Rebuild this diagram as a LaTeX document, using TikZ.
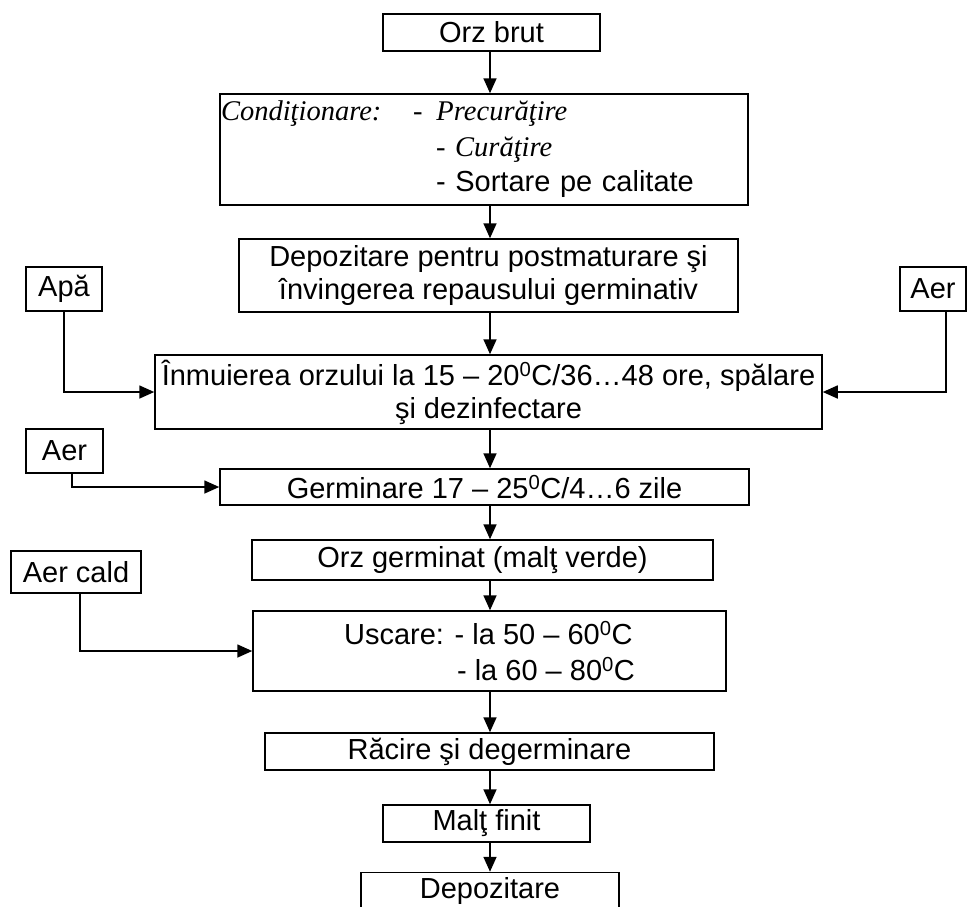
\documentclass[tikz,border=0pt]{standalone}
\usepackage{fontspec}
\setmainfont{Liberation Sans}
\newfontfamily\timesfont{Liberation Serif}
\usetikzlibrary{arrows.meta, positioning}
\newcommand{\condit}[1]{{\timesfont\itshape\fontsize{28.5}{35.5}\selectfont #1}}
\newcommand{\grd}{\textsuperscript{0}}
\tikzstyle{process} = [
	rectangle,
	line width=1.5pt,
	text centered,
	inner sep=1pt,
	draw=black,
	font=\fontsize{29}{33}\selectfont
]
\tikzstyle{feed} = [
	rectangle,
	line width=1.5pt,
	minimum height=44pt,
	inner sep=1pt,
	draw=black,
	font=\fontsize{29}{33}\selectfont
]
\tikzstyle{arrow} = [line width=1.7pt,-{Triangle[length=15pt,width=13pt]}]

\begin{document}
\begin{tikzpicture}[x=1pt, y=-1pt]
	\useasboundingbox (0,0) rectangle (968,906);
	\coordinate (axis) at (490,0);
	% main line
	\node (brut) [process, minimum width=217pt, minimum height=37pt] at (491.5,32.5) {Orz brut};
	\node (cond) [process, text width=526pt, align=left, minimum height=111pt, font=\fontsize{29}{35.5}\selectfont] at (484,149.5)
		{\makebox[192pt][l]{\condit{Condiţionare:}}\condit{-\hspace{14pt}Precurăţire}\\
		\hspace*{215pt}\condit{- Curăţire}\\
		\hspace*{215pt}- Sortare pe calitate};
	\node (depoz) [process, minimum width=499pt, minimum height=73pt, align=center] at (488.5,275.5)
		{Depozitare pentru postmaturare şi\\învingerea repausului germinativ};
	\node (inm) [process, minimum width=667pt, minimum height=74pt, align=center] at (488.5,392)
		{Înmuierea orzului la 15 – 20\grd C/36…48 ore, spălare\\şi dezinfectare};
	\node (germ) [process, minimum width=529pt, minimum height=36pt] at (484.5,487)
		{Germinare 17 – 25\grd C/4…6 zile};
	\node (orzg) [process, minimum width=461pt, minimum height=40pt] at (482.5,560)
		{Orz germinat (malţ verde)};
	\node (usc) [process, minimum width=473pt, minimum height=80pt, align=left, font=\fontsize{29}{36}\selectfont] at (489.5,651)
		{Uscare: - la 50 – 60\grd C\\\hspace*{113pt}- la 60 – 80\grd C};
	\node (rac) [process, minimum width=449pt, minimum height=37pt] at (489.5,751.5) {Răcire şi degerminare};
	\node (malt) [process, minimum width=207pt, minimum height=37pt] at (486.5,823.5) {Malţ finit};
	\node (dep) [process, minimum width=258pt, minimum height=37pt] at (490,891) {Depozitare};
	% inputs
	\node (apa) [feed, minimum width=76pt] at (64,289) {Apă};
	\node (aerR) [feed, minimum width=66pt] at (933,289) {Aer};
	\node (aer2) [feed, minimum width=77pt] at (64.5,451) {Aer};
	\node (aercald) [feed, minimum width=130pt, minimum height=42pt] at (76,572) {Aer cald};

	\draw [arrow] (brut.south -| axis) -- (cond.north -| axis);
	\draw [arrow] (cond.south -| axis) -- (depoz.north -| axis);
	\draw [arrow] (depoz.south -| axis) -- (inm.north -| axis);
	\draw [arrow] (inm.south -| axis) -- (germ.north -| axis);
	\draw [arrow] (germ.south -| axis) -- (orzg.north -| axis);
	\draw [arrow] (orzg.south -| axis) -- (usc.north -| axis);
	\draw [arrow] (usc.south -| axis) -- (rac.north -| axis);
	\draw [arrow] (rac.south -| axis) -- (malt.north -| axis);
	\draw [arrow] (malt.south -| axis) -- (dep.north -| axis);
	\draw [arrow] (apa.south) |- (inm.west);
	\draw [arrow] ([xshift=13pt]aerR.south) |- (inm.east);
	\draw [arrow] ([xshift=7.5pt]aer2.south) |- (germ.west);
	\draw [arrow] ([xshift=4pt]aercald.south) |- (usc.west);
\end{tikzpicture}
\end{document}
